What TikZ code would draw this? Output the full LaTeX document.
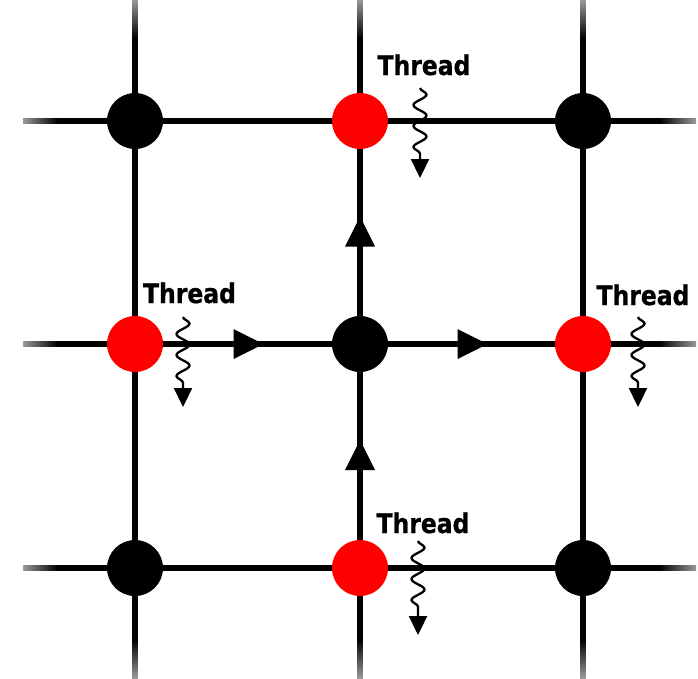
\documentclass[tikz,border=0pt]{standalone}
\usepackage{fontspec}
\usetikzlibrary{arrows.meta,decorations.pathmorphing,decorations.markings}
\newfontfamily\thrfont{DejaVu Sans}[FakeStretch=0.87,BoldFeatures={FakeBold=0.8}]
\begin{document}
\begin{tikzpicture}[x=1pt,y=-1pt,
  dot/.style={circle, minimum size=56pt, inner sep=0pt, draw=none},
  thr/.style={font=\thrfont\bfseries\fontsize{27}{27}\selectfont, anchor=base, inner sep=0pt},
  wav/.style={line width=2.3pt, decorate,
    decoration={snake, amplitude=6.5pt, segment length=21pt, post length=18pt},
    -{Triangle[length=19pt,width=18pt]}},
  midtri/.style={decorate, decoration={markings,
    mark=at position 0.5 with {\fill (-14pt,-15pt) -- (16pt,0pt) -- (-14pt,15pt) -- cycle;}}}
]
\useasboundingbox (0,0) rectangle (698,678);
% horizontal lines with faded ends
\foreach \yy in {121,344,568}{
  \fill (57,\yy-2.8) rectangle (660,\yy+2.8);
  \shade[left color=black!40, right color=black] (23,\yy-2.8) rectangle (57.5,\yy+2.8);
  \shade[left color=black, right color=black!40] (659.5,\yy-2.8) rectangle (696,\yy+2.8);
}
% vertical lines with faded ends
\foreach \xx in {135,360,583}{
  \fill (\xx-2.8,38) rectangle (\xx+2.8,640);
  \shade[top color=black!40, bottom color=black] (\xx-2.8,0) rectangle (\xx+2.8,38.5);
  \shade[top color=black, bottom color=black!40] (\xx-2.8,639.5) rectangle (\xx+2.8,678);
}
% nodes
\node[dot, fill=black] (n11) at (135,121) {};
\node[dot, fill=red]   (n12) at (360,121) {};
\node[dot, fill=black] (n13) at (583,121) {};
\node[dot, fill=red]   (n21) at (135,344) {};
\node[dot, fill=black] (n22) at (360,344) {};
\node[dot, fill=red]   (n23) at (583,344) {};
\node[dot, fill=black] (n31) at (135,568) {};
\node[dot, fill=red]   (n32) at (360,568) {};
\node[dot, fill=black] (n33) at (583,568) {};
% direction triangles
\path[midtri] (n21) -- (n22);
\path[midtri] (n22) -- (n23);
\path[midtri] (n22) -- (n12);
\path[midtri] (n32) -- (n22);
% thread labels
\node[thr] (t1) at (424,75) {Thread};
\node[thr] (t2) at (189.5,303) {Thread};
\node[thr] (t3) at (643,305) {Thread};
\node[thr] (t4) at (423,533) {Thread};
% wavy arrows
\coordinate (w1a) at (420,88);  \coordinate (w1b) at (420,178);
\coordinate (w2a) at (183,317); \coordinate (w2b) at (183,407);
\coordinate (w3a) at (638,317); \coordinate (w3b) at (638,407);
\coordinate (w4a) at (418,541); \coordinate (w4b) at (418,635);
\draw[wav] (w1a) -- (w1b);
\draw[wav] (w2a) -- (w2b);
\draw[wav] (w3a) -- (w3b);
\draw[wav] (w4a) -- (w4b);
\end{tikzpicture}
\end{document}
